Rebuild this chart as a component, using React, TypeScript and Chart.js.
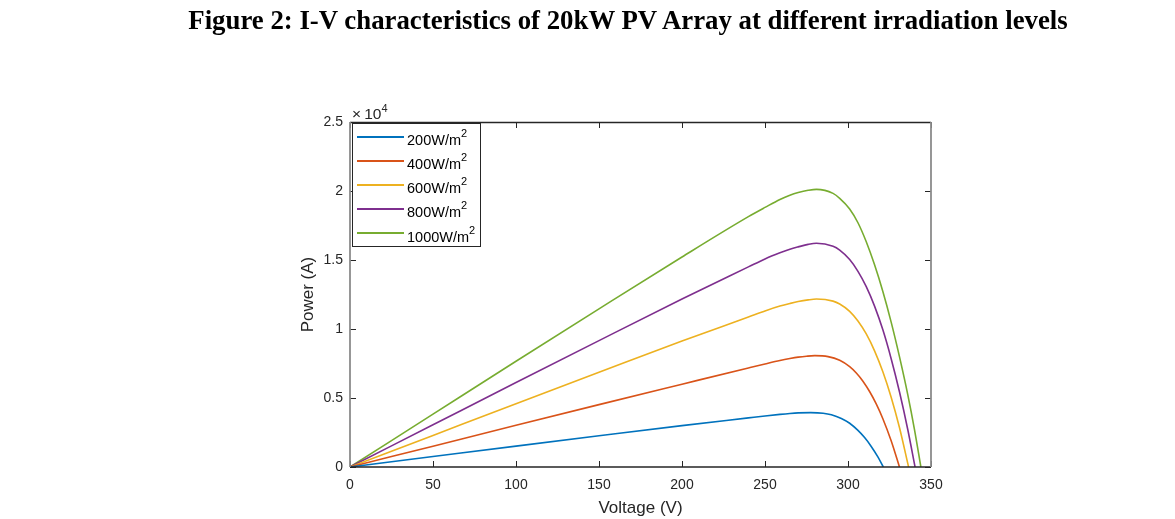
import React, { useEffect, useRef } from 'react';
import { Chart, registerables } from 'chart.js';

Chart.register(...registerables);

// ---- data (voltage in V, power in W) ----
const irradianceLabels = ['200', '400', '600', '800', '1000'];
const seriesColors = ['#0072BD', '#D95319', '#EDB120', '#7E2F8E', '#77AC30'];

const v200 = [0, 50, 100, 150, 200, 240, 250, 259, 265, 270, 277.5, 285, 290, 296, 301, 306, 310, 314, 318, 321.3];
const p200 = [0, 755, 1510, 2260, 3000, 3560, 3700, 3815, 3880, 3920, 3940, 3900, 3790, 3520, 3170, 2650, 2130, 1490, 730, 0];

const v400 = [0, 50, 100, 150, 200, 240, 250, 259, 265, 270, 275, 280, 288, 295, 301, 305, 309, 313, 317, 321, 326, 331];
const p400 = [0, 1510, 3020, 4520, 6000, 7180, 7470, 7720, 7860, 7960, 8030, 8070, 8000, 7730, 7270, 6810, 6220, 5470, 4570, 3500, 1900, 0];

const v600 = [0, 50, 100, 150, 200, 240, 250, 259, 265, 270, 276, 281, 291, 295, 301, 306, 311, 316, 321, 326, 331, 336.5];
const p600 = [0, 2290, 4580, 6860, 9130, 10870, 11310, 11660, 11850, 11990, 12110, 12170, 12020, 11810, 11280, 10580, 9640, 8420, 6900, 5060, 2860, 0];

const v800 = [0, 50, 100, 150, 200, 240, 250, 259, 265, 270, 276, 281, 291, 295, 301, 306, 311, 316, 321, 326, 331, 336, 340.4];
const p800 = [0, 3060, 6120, 9160, 12170, 14500, 15080, 15520, 15780, 15950, 16130, 16210, 15990, 15710, 15030, 14180, 13070, 11660, 9940, 7850, 5450, 2720, 0];

const v1000 = [0, 50, 100, 150, 200, 240, 250, 259, 265, 270, 276, 281, 291, 295, 301, 306, 311, 316, 321, 326, 331, 336, 340, 343.9];
const p1000 = [0, 3830, 7660, 11460, 15220, 18140, 18810, 19390, 19700, 19890, 20050, 20120, 19830, 19470, 18700, 17700, 16320, 14650, 12720, 10500, 8000, 5250, 2750, 0];

const voltageSeries = [v200, v400, v600, v800, v1000];
const powerSeries = [p200, p400, p600, p800, p1000];

const xTicks = [0, 50, 100, 150, 200, 250, 300, 350];
const yTicks = [0, 5000, 10000, 15000, 20000, 25000];

const AXIS = '#262626';
const SANS = "'Liberation Sans', Arial, sans-serif";

const framePlugin = {
  id: 'matlabFrame',
  afterDatasetsDraw(chart: any) {
    const { ctx, chartArea, scales } = chart;
    const { left, right, top, bottom } = chartArea;
    const xs = scales.x;
    const ys = scales.y;
    const tl = 6;
    ctx.save();
    ctx.strokeStyle = AXIS;
    ctx.lineWidth = 1;
    ctx.beginPath();
    xs.ticks.forEach((t: any) => {
      const px = Math.round(xs.getPixelForValue(t.value)) + 0.5;
      ctx.moveTo(px, bottom);
      ctx.lineTo(px, bottom - tl);
      ctx.moveTo(px, top);
      ctx.lineTo(px, top + tl);
    });
    ys.ticks.forEach((t: any) => {
      const py = Math.round(ys.getPixelForValue(t.value)) + 0.5;
      ctx.moveTo(left, py);
      ctx.lineTo(left + tl, py);
      ctx.moveTo(right, py);
      ctx.lineTo(right - tl, py);
    });
    ctx.stroke();
    ctx.lineWidth = 1.3;
    ctx.beginPath();
    ctx.moveTo(left, top + 0.5);
    ctx.lineTo(right, top + 0.5);
    ctx.moveTo(left, bottom);
    ctx.lineTo(right, bottom);
    ctx.stroke();
    ctx.strokeStyle = '#8c8c8c';
    ctx.lineWidth = 1.8;
    ctx.beginPath();
    ctx.moveTo(left, top);
    ctx.lineTo(left, bottom);
    ctx.moveTo(right, top);
    ctx.lineTo(right, bottom);
    ctx.stroke();
    ctx.restore();
  },
};

export default function App() {
  const canvasRef = useRef<HTMLCanvasElement | null>(null);

  useEffect(() => {
    if (!canvasRef.current) return;
    const datasets = voltageSeries.map((vs, i) => ({
      label: `${irradianceLabels[i]}W/m²`,
      data: vs.map((v, j) => ({ x: v, y: powerSeries[i][j] })),
      borderColor: seriesColors[i],
      backgroundColor: seriesColors[i],
      borderWidth: 1.6,
      pointRadius: 0,
      fill: false,
      cubicInterpolationMode: 'monotone' as const,
    }));

    const chart = new Chart(canvasRef.current, {
      type: 'line',
      data: { datasets },
      options: {
        responsive: false,
        animation: false,
        layout: { padding: { left: 298, right: 244, top: 122, bottom: 0 } },
        plugins: {
          legend: { display: false },
          tooltip: { enabled: false },
          title: { display: false },
        },
        scales: {
          x: {
            type: 'linear',
            min: 0,
            max: 350,
            afterBuildTicks: (s: any) => {
              s.ticks = xTicks.map((v) => ({ value: v }));
            },
            afterFit: (s: any) => {
              s.height = 52;
            },
            grid: { display: false, drawTicks: false },
            border: { display: false },
            ticks: {
              padding: 10,
              autoSkip: false,
              maxRotation: 0,
              color: AXIS,
              font: { family: SANS, size: 14 },
            },
            title: {
              display: true,
              text: 'Voltage (V)',
              color: AXIS,
              font: { family: SANS, size: 17 },
              padding: { top: 0, bottom: 0 },
            },
          },
          y: {
            type: 'linear',
            min: 0,
            max: 25000,
            afterBuildTicks: (s: any) => {
              s.ticks = yTicks.map((v) => ({ value: v }));
            },
            afterFit: (s: any) => {
              s.width = 52;
            },
            grid: { display: false, drawTicks: false },
            border: { display: false },
            ticks: {
              padding: 7,
              autoSkip: false,
              color: AXIS,
              font: { family: SANS, size: 14 },
              callback: (v: any) => String(Number(v) / 10000),
            },
            title: {
              display: true,
              text: 'Power (A)',
              color: AXIS,
              font: { family: SANS, size: 17 },
              padding: { top: 0, bottom: 0 },
            },
          },
        },
      },
      plugins: [framePlugin],
    });
    return () => chart.destroy();
  }, []);

  const rowStart = 13.7;
  const rowGap = 24.15;

  return (
    <div style={{ position: 'absolute', left: 0, top: 0, width: 1175, height: 519, background: '#fff', overflow: 'hidden' }}>
      <canvas ref={canvasRef} width={1175} height={519} style={{ position: 'absolute', left: 0, top: 0, display: 'block' }} />
      <div
        style={{
          position: 'absolute',
          left: 628,
          top: 7,
          transform: 'translateX(-50%)',
          whiteSpace: 'nowrap',
          fontFamily: "'Liberation Serif', 'Times New Roman', serif",
          fontWeight: 'bold',
          fontSize: 26.8,
          lineHeight: '27px',
          color: '#000',
        }}
      >
        Figure 2: I-V characteristics of 20kW PV Array at different irradiation levels
      </div>
      <div
        style={{
          position: 'absolute',
          left: 352,
          top: 106,
          whiteSpace: 'nowrap',
          fontFamily: SANS,
          fontSize: 15.5,
          lineHeight: '15.5px',
          color: AXIS,
        }}
      >
        ×{'\u2009'}10
        <span style={{ fontSize: 11, position: 'relative', top: -7.3, lineHeight: 0 }}>4</span>
      </div>
      <div
        style={{
          position: 'absolute',
          left: 352,
          top: 123,
          width: 129,
          height: 124,
          boxSizing: 'border-box',
          border: `1px solid ${AXIS}`,
          background: '#fff',
        }}
      >
        {irradianceLabels.map((lab, i) => {
          const rowY = rowStart + i * rowGap;
          return (
            <React.Fragment key={lab}>
              <div
                style={{
                  position: 'absolute',
                  left: 4,
                  top: Math.round(rowY - 2),
                  width: 47,
                  height: 2,
                  background: seriesColors[i],
                }}
              />
              <div
                style={{
                  position: 'absolute',
                  left: 54,
                  top: rowY - 4.8,
                  whiteSpace: 'nowrap',
                  fontFamily: SANS,
                  fontSize: 14.5,
                  lineHeight: '14.5px',
                  color: '#000',
                }}
              >
                {lab}W/m
                <span style={{ fontSize: 11, position: 'relative', top: -8, lineHeight: 0 }}>2</span>
              </div>
            </React.Fragment>
          );
        })}
      </div>
    </div>
  );
}
